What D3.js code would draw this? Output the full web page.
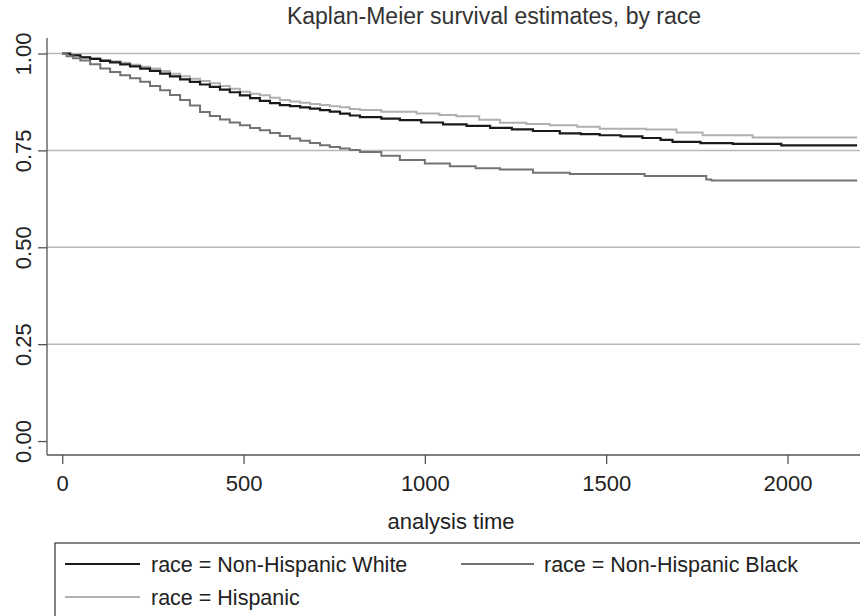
<!DOCTYPE html>
<html>
<head>
<meta charset="utf-8">
<title>Kaplan-Meier survival estimates, by race</title>
<style>
  body { margin: 0; background: #fff; }
  svg text { font-family: "Liberation Sans", Arial, Helvetica, sans-serif; fill: #222; }
</style>
</head>
<body>
<div id="chart"></div>

<script src="https://d3js.org/d3.v7.min.js"></script>
<script>

// survival data (analysis time, survivor estimate)
var timeWhite = [0, 22, 50, 77, 105, 132, 160, 187, 215, 242, 270, 297, 325, 352, 380, 407, 435, 462, 490, 518, 545, 573, 600, 628, 656, 683, 711, 738, 766, 793, 821, 880, 931, 990, 1050, 1115, 1180, 1240, 1298, 1372, 1430, 1482, 1540, 1600, 1650, 1683, 1760, 1849, 1983, 2192];
var survWhite = [1, .995, .990, .986, .981, .977, .972, .967, .961, .955, .948, .941, .933, .927, .920, .914, .907, .900, .892, .885, .878, .872, .867, .864, .861, .858, .854, .850, .845, .840, .836, .832, .828, .822, .817, .813, .808, .804, .800, .794, .792, .789, .786, .782, .777, .772, .769, .767, .763, .763];

var timeBlack = [0, 12, 30, 50, 77, 105, 132, 160, 187, 215, 242, 270, 297, 325, 352, 380, 407, 435, 462, 490, 518, 545, 573, 600, 628, 656, 683, 711, 738, 766, 793, 821, 880, 931, 1000, 1069, 1140, 1207, 1298, 1400, 1482, 1606, 1776, 1790, 2192];
var survBlack = [1, .993, .988, .982, .972, .961, .952, .944, .936, .927, .916, .905, .893, .880, .866, .849, .839, .830, .822, .815, .808, .802, .795, .787, .781, .775, .769, .763, .759, .755, .751, .746, .736, .725, .716, .709, .704, .701, .692, .689, .689, .684, .675, .672, .672];

var timeHisp = [0, 22, 50, 77, 105, 132, 160, 187, 215, 242, 270, 297, 325, 352, 380, 407, 435, 462, 490, 518, 545, 573, 600, 628, 656, 683, 711, 738, 766, 793, 821, 880, 977, 1040, 1087, 1150, 1207, 1280, 1344, 1420, 1482, 1550, 1610, 1694, 1766, 1904, 2192];
var survHisp = [1, .996, .991, .987, .983, .980, .976, .971, .966, .961, .955, .948, .941, .935, .929, .923, .916, .909, .901, .896, .892, .886, .880, .876, .873, .870, .867, .864, .861, .857, .854, .850, .845, .841, .838, .829, .821, .818, .815, .811, .806, .806, .804, .796, .789, .783, .783];

var groups = ["race = Non-Hispanic White", "race = Non-Hispanic Black", "race = Hispanic"];
var xTicks = [0, 500, 1000, 1500, 2000];
var yTicks = [0, 0.25, 0.5, 0.75, 1];
var gridTicks = [0.25, 0.5, 0.75, 1];

var width = 860, height = 616;
var colors = ["#1a1a1a", "#737373", "#b0b0b0"];

var series = [
  { name: groups[0], t: timeWhite, s: survWhite, color: colors[0] },
  { name: groups[1], t: timeBlack, s: survBlack, color: colors[1] },
  { name: groups[2], t: timeHisp,  s: survHisp,  color: colors[2] }
];

var svg = d3.select("#chart").append("svg")
    .attr("width", width)
    .attr("height", height);

// scales
var x = d3.scaleLinear().domain([-42, 2200]).range([47, 860]);
var y = d3.scaleLinear().domain([-0.036, 1.04]).range([455, 38]);

// title
svg.append("text")
    .attr("x", 494)
    .attr("y", 24)
    .attr("text-anchor", "middle")
    .style("font-size", "23px")
    .style("fill", "#333")
    .text("Kaplan-Meier survival estimates, by race");

// grid lines
svg.append("g").selectAll("line")
    .data(gridTicks)
  .enter().append("line")
    .attr("x1", 47).attr("x2", 860)
    .attr("y1", function(d) { return y(d); })
    .attr("y2", function(d) { return y(d); })
    .attr("stroke", "#b8b8b8")
    .attr("stroke-width", 1.5);

// y axis
var yAxis = svg.append("g")
    .attr("transform", "translate(47,0)")
    .call(d3.axisLeft(y).tickValues(yTicks).tickSize(9).tickFormat(d3.format(".2f")));
yAxis.select(".domain").attr("d", "M0,38V455").attr("stroke", "#555").attr("stroke-width", 1.3);
yAxis.selectAll(".tick line").attr("stroke", "#555").attr("stroke-width", 1.3);
yAxis.selectAll(".tick text")
    .attr("x", null).attr("dy", null)
    .attr("transform", "translate(-16,0) rotate(-90)")
    .attr("text-anchor", "middle")
    .style("font-size", "22px")
    .style("fill", "#222");

// x axis
var xAxis = svg.append("g")
    .attr("transform", "translate(0,455)")
    .call(d3.axisBottom(x).tickValues(xTicks).tickSize(9).tickFormat(d3.format("d")));
xAxis.select(".domain").attr("d", "M47,0H860").attr("stroke", "#555").attr("stroke-width", 1.3);
xAxis.selectAll(".tick line").attr("stroke", "#555").attr("stroke-width", 1.3);
xAxis.selectAll(".tick text")
    .attr("y", 36).attr("dy", null)
    .style("font-size", "22px")
    .style("fill", "#222");

svg.selectAll("g").attr("font-family", null).attr("font-size", null);

// axis title
svg.append("text")
    .attr("x", 451)
    .attr("y", 529)
    .attr("text-anchor", "middle")
    .style("font-size", "22px")
    .text("analysis time");

// survival curves
var line = d3.line()
    .x(function(d) { return x(d[0]); })
    .y(function(d) { return y(d[1]); })
    .curve(d3.curveStepAfter);

[series[2], series[0], series[1]].forEach(function(sr) {
  var pts = sr.t.map(function(t, i) { return [t, sr.s[i]]; });
  svg.append("path")
      .datum(pts)
      .attr("fill", "none")
      .attr("stroke", sr.color)
      .attr("stroke-width", sr === series[0] ? 2.2 : 2)
      .attr("d", line);
});

// legend
var legend = svg.append("g");
legend.append("rect")
    .attr("x", 55).attr("y", 543)
    .attr("width", 820).attr("height", 90)
    .attr("fill", "none")
    .attr("stroke", "#444")
    .attr("stroke-width", 1.3);

// [line start, line end, text x, y]
var legPos = [[65, 140, 151, 564], [461, 534, 544, 564], [65, 140, 151, 597]];
series.forEach(function(sr, i) {
  var p = legPos[i];
  legend.append("line")
      .attr("x1", p[0]).attr("x2", p[1])
      .attr("y1", p[3]).attr("y2", p[3])
      .attr("stroke", sr.color)
      .attr("stroke-width", 2);
  legend.append("text")
      .attr("x", p[2])
      .attr("y", p[3] + 8)
      .style("font-size", "21.5px")
      .text(sr.name);
});

</script>
</body>
</html>
